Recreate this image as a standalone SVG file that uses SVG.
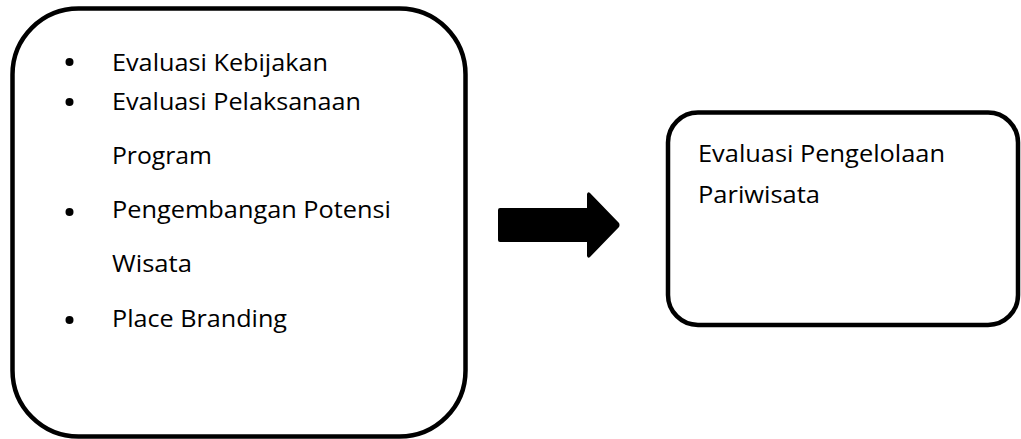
<svg xmlns="http://www.w3.org/2000/svg" width="1021" height="439" viewBox="0 0 1021 439">
<style>
.box{fill:#fff;stroke:#000;stroke-width:4.5}
.t{font-family:"Open Sans","Liberation Sans",sans-serif;font-size:23px;fill:#000}
.b{fill:#000}
</style>
<rect width="1021" height="439" fill="#fff"/>
<g id="node-left">
<rect class="box" x="12.5" y="8.5" width="453" height="428" rx="66" ry="66"/>
<circle class="b" cx="69.5" cy="62" r="4"/>
<circle class="b" cx="69.5" cy="102" r="4"/>
<circle class="b" cx="69.5" cy="212" r="4"/>
<circle class="b" cx="69.5" cy="320" r="4"/>
<text class="t" x="112" y="70.5" textLength="216" lengthAdjust="spacingAndGlyphs">Evaluasi Kebijakan</text>
<text class="t" x="112" y="110" textLength="249" lengthAdjust="spacingAndGlyphs">Evaluasi Pelaksanaan</text>
<text class="t" x="112" y="163.5" textLength="100" lengthAdjust="spacingAndGlyphs">Program</text>
<text class="t" x="112" y="218" textLength="279" lengthAdjust="spacingAndGlyphs">Pengembangan Potensi</text>
<text class="t" x="112" y="272" textLength="80" lengthAdjust="spacingAndGlyphs">Wisata</text>
<text class="t" x="112" y="327" textLength="175" lengthAdjust="spacingAndGlyphs">Place Branding</text>
</g>
<g id="connectors">
<path d="M500 208 L587 208 L587 194 Q588 191 590 193 L619 223 Q620 225 619 227 L590 257 Q588 259 587 256 L587 242 L500 242 Q498 242 498 240 L498 210 Q498 208 500 208 Z" fill="#000"/>
</g>
<g id="node-right">
<rect class="box" x="668" y="112.5" width="350" height="212.5" rx="30" ry="30"/>
<text class="t" x="698" y="162" textLength="247" lengthAdjust="spacingAndGlyphs">Evaluasi Pengelolaan</text>
<text class="t" x="698" y="203" textLength="122" lengthAdjust="spacingAndGlyphs">Pariwisata</text>
</g>
</svg>
